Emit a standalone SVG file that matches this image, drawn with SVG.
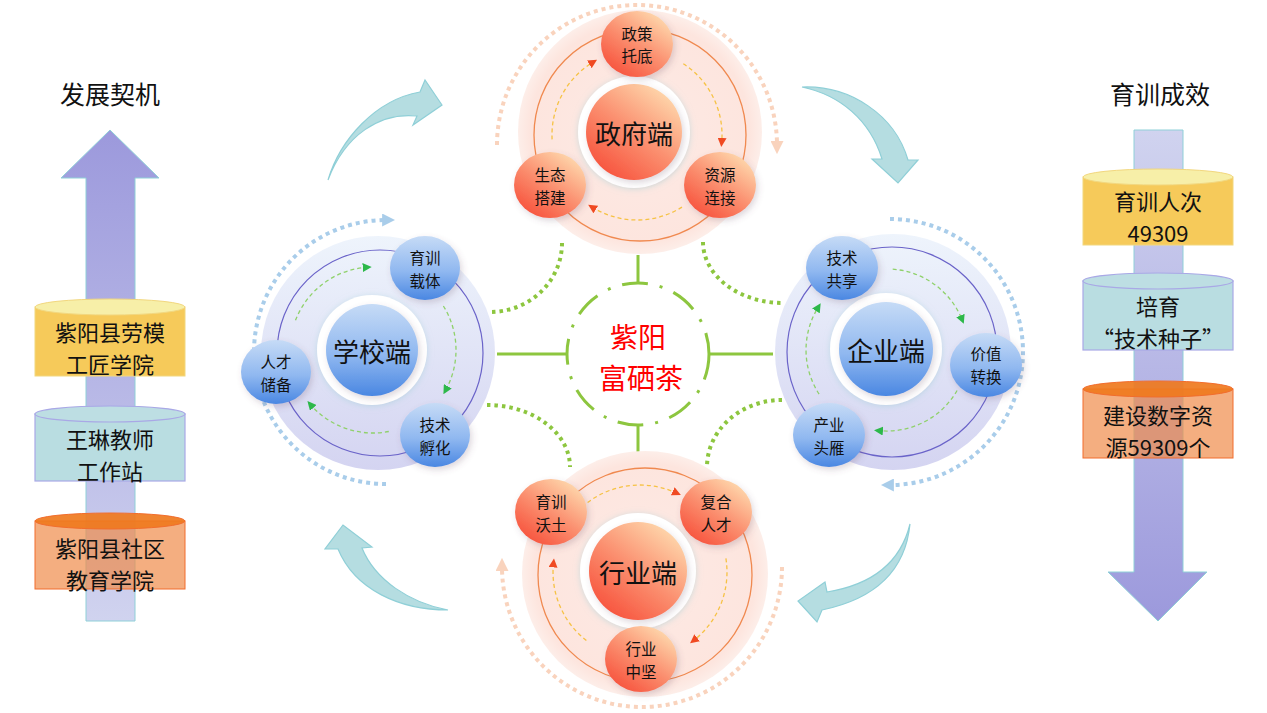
<svg xmlns="http://www.w3.org/2000/svg" width="1267" height="713" viewBox="0 0 1267 713">
<style>
text{font-family:"Noto Sans CJK SC","Liberation Sans",sans-serif;fill:#111;text-anchor:middle;dominant-baseline:central}
.t{font-size:25px}
.bx{font-size:22px}
.sn{font-size:15.5px}
.cn{font-size:26px}
.ctr{font-size:28px;fill:#ff0000}
.shaft{stroke:#8fd0d8;stroke-width:1}
.cyY{fill:#f6ca5a;stroke:#f2d77f;stroke-width:1}
.cyYt{fill:#f7efa8;stroke:#f2d77f;stroke-width:1}
.cyT{fill:#b9dde1;stroke:#a9a8e6;stroke-width:1.2}
.cyTt{fill:#bddee3;stroke:#a9a8e6;stroke-width:1.2}
.cyO{fill:#f08c4a;fill-opacity:0.7;stroke:#f26d2d;stroke-width:1}
.cyOt{fill:#ef7a1e;fill-opacity:0.92;stroke:#f26d2d;stroke-width:1}
.bend{fill:#b5dde1;stroke:#8fcfd7;stroke-width:1.2}
.gl{stroke:#8dc63f;stroke-width:3;fill:none}
.gd{stroke:#8dc63f;stroke-width:4;fill:none;stroke-dasharray:3.5 4}
.dR{stroke:#f9d3bd;stroke-width:4;fill:none;stroke-dasharray:4 4}
.dB{stroke:#a9cdea;stroke-width:4;fill:none;stroke-dasharray:4 4}
.iR{stroke:#f6c244;stroke-width:1.3;fill:none;stroke-dasharray:4 3}
.iB{stroke:#8fd16a;stroke-width:1.3;fill:none;stroke-dasharray:4 3}
.ringR{fill:none;stroke:#f0894f;stroke-width:1.3}
.ringB{fill:none;stroke:#6a63c9;stroke-width:1.2}
.nR{fill:url(#gR);filter:url(#sh)}
.nB{fill:url(#gB);filter:url(#sh)}
.halo{fill:#fff;filter:url(#glow)}
</style>
<defs>
<linearGradient id="gR" x1="0.85" y1="0.1" x2="0.2" y2="0.95">
<stop offset="0" stop-color="#fed6ab"/><stop offset="0.5" stop-color="#fb9070"/><stop offset="1" stop-color="#f7533d"/>
</linearGradient>
<linearGradient id="gB" x1="0" y1="0" x2="0" y2="1">
<stop offset="0" stop-color="#c6dbf6"/><stop offset="0.55" stop-color="#90b8f0"/><stop offset="1" stop-color="#4a87e2"/>
</linearGradient>
<linearGradient id="gDiskB" x1="0" y1="0" x2="0" y2="1">
<stop offset="0" stop-color="#eef4fc"/><stop offset="1" stop-color="#d4d4f1"/>
</linearGradient>
<radialGradient id="gDiskR" cx="0.5" cy="0.5" r="0.5">
<stop offset="0" stop-color="#fdeae5"/><stop offset="0.9" stop-color="#fde5de"/><stop offset="1" stop-color="#fdeee9"/>
</radialGradient>
<linearGradient id="gUp" x1="0" y1="0" x2="0" y2="1">
<stop offset="0" stop-color="#9c99dc"/><stop offset="1" stop-color="#d0d3ef"/>
</linearGradient>
<linearGradient id="gDown" x1="0" y1="0" x2="0" y2="1">
<stop offset="0" stop-color="#d0d3ef"/><stop offset="1" stop-color="#9c99dc"/>
</linearGradient>
<filter id="sh" x="-30%" y="-30%" width="160%" height="160%">
<feDropShadow dx="2" dy="3" stdDeviation="3" flood-color="#6a4a60" flood-opacity="0.22"/>
</filter>
<filter id="glow" x="-30%" y="-30%" width="160%" height="160%">
<feDropShadow dx="0" dy="1" stdDeviation="3" flood-color="#9ecfd6" flood-opacity="0.5"/>
</filter>
<marker id="mR" viewBox="0 0 10 10" refX="5" refY="5" markerWidth="9" markerHeight="9" markerUnits="userSpaceOnUse" orient="auto">
<path d="M0,0 L10,5 L0,10 z" fill="#f04a22"/>
</marker>
<marker id="mG" viewBox="0 0 10 10" refX="5" refY="5" markerWidth="9" markerHeight="9" markerUnits="userSpaceOnUse" orient="auto">
<path d="M0,0 L10,5 L0,10 z" fill="#2db84a"/>
</marker>
<marker id="mDR" viewBox="0 0 10 10" refX="3" refY="5" markerWidth="13" markerHeight="13" markerUnits="userSpaceOnUse" orient="auto">
<path d="M0,0 L10,5 L0,10 z" fill="#f9d3bd"/>
</marker>
<marker id="mDB" viewBox="0 0 10 10" refX="3" refY="5" markerWidth="13" markerHeight="13" markerUnits="userSpaceOnUse" orient="auto">
<path d="M0,0 L10,5 L0,10 z" fill="#a9cdea"/>
</marker>
</defs>

<rect width="1267" height="713" fill="#fff"/>

<!-- Left column -->
<g id="left-column">
<text class="t" x="110" y="93">发展契机</text>
<path class="shaft" d="M86,621 L86,178 L61,178 L110,130 L159,178 L135,178 L135,621 Z" fill="url(#gUp)"/>
<g id="box-laomo">
<rect class="cyY" x="35" y="307" width="150" height="69"/>
<ellipse class="cyYt" cx="110" cy="307" rx="75" ry="8"/>
<text class="bx"><tspan x="110" y="330.5">紫阳县劳模</tspan><tspan x="110" dy="32">工匠学院</tspan></text>
</g>
<g id="box-wanglin">
<rect class="cyT" x="35" y="414" width="150" height="67"/>
<ellipse class="cyTt" cx="110" cy="414" rx="75" ry="8"/>
<text class="bx"><tspan x="110" y="437.5">王琳教师</tspan><tspan x="110" dy="32">工作站</tspan></text>
</g>
<g id="box-shequ">
<rect class="cyO" x="35" y="521" width="150" height="68"/>
<ellipse class="cyOt" cx="110" cy="521" rx="75" ry="8"/>
<text class="bx"><tspan x="110" y="546.5">紫阳县社区</tspan><tspan x="110" dy="32">教育学院</tspan></text>
</g>
</g>

<!-- Right column -->
<g id="right-column">
<text class="t" x="1160" y="93">育训成效</text>
<path class="shaft" d="M1134,130 L1183,130 L1183,572 L1207,572 L1158,621 L1108,572 L1134,572 Z" fill="url(#gDown)"/>
<g id="box-renci">
<rect class="cyY" x="1083" y="177" width="150" height="68"/>
<ellipse class="cyYt" cx="1158" cy="177" rx="75" ry="8"/>
<text class="bx"><tspan x="1158" y="199.5">育训人次</tspan><tspan x="1158" dy="32">49309</tspan></text>
</g>
<g id="box-zhongzi">
<rect class="cyT" x="1083" y="281" width="150" height="69"/>
<ellipse class="cyTt" cx="1158" cy="281" rx="75" ry="8"/>
<text class="bx"><tspan x="1158" y="305">培育</tspan><tspan x="1158" dy="32">“技术种子”</tspan></text>
</g>
<g id="box-ziyuan">
<rect class="cyO" x="1083" y="389" width="150" height="69"/>
<ellipse class="cyOt" cx="1158" cy="389" rx="75" ry="8"/>
<text class="bx"><tspan x="1158" y="414">建设数字资</tspan><tspan x="1158" dy="32">源59309个</tspan></text>
</g>
</g>

<!-- Connectors -->
<g id="connectors">
<path class="bend" d="M328,180 C340,140 375,100 420,92 L425,80 L442,105 L413,125 L417,116 C380,112 345,135 328,180 Z"/>
<path class="bend" d="M802,87 C850,85 895,115 908,160 L918,160 L898,183 L872,159 L882,159 C870,120 840,95 802,87 Z"/>
<path class="bend" d="M910,524 C905,575 870,600 822,610 L817,622 L798,601 L825,582 L827,592 C870,585 900,565 910,524 Z"/>
<path class="bend" d="M448,610 C400,610 355,590 338,549 L325,549 L343,525 L372,547 L362,548 C375,580 410,603 448,610 Z"/>

<path class="gd" d="M562,243 A72,69 0 0 1 490,312"/>
<path class="gd" d="M703,242 A80,61 0 0 0 783,303"/>
<path class="gd" d="M487,405 A83,62 0 0 1 570,467"/>
<path class="gd" d="M782,400 A75,67 0 0 0 707,467"/>

<line class="gl" x1="638" y1="255" x2="638" y2="284"/>
<line class="gl" x1="638" y1="425" x2="638" y2="456"/>
<line class="gl" x1="497" y1="354" x2="567" y2="354"/>
<line class="gl" x1="710" y1="354" x2="773" y2="354"/>
</g>

<!-- Center -->
<g id="center">
<circle cx="638" cy="354" r="71" fill="none" stroke="#8dc63f" stroke-width="3" stroke-dasharray="26 12 3 12"/>
<text class="ctr"><tspan x="638" y="335.5">紫阳</tspan><tspan x="641" dy="41">富硒茶</tspan></text>
</g>

<!-- Government cluster -->
<g id="cluster-government">
<circle cx="640" cy="132" r="122" fill="url(#gDiskR)"/>
<circle class="ringR" cx="640" cy="135" r="106"/>
<path class="dR" d="M497,145 A140,140 0 0 1 777,145" marker-end="url(#mDR)"/>
<path class="iR" d="M683.3,63.7 A85,85 0 0 1 721.7,142.4" marker-end="url(#mR)"/>
<path class="iR" d="M682,207.1 A85,85 0 0 1 592,207.1" marker-end="url(#mR)"/>
<path class="iR" d="M552.1,139.4 A85,85 0 0 1 593.2,62.1" marker-end="url(#mR)"/>
<g id="node-zhengfu">
<circle class="halo" cx="634" cy="132" r="56"/>
<circle class="nR" cx="634" cy="132" r="48"/>
<text class="cn" x="634" y="132">政府端</text>
</g>
<g id="node-zhengce">
<ellipse class="nR" cx="637" cy="44" rx="36" ry="33"/>
<text class="sn"><tspan x="637" y="32.75">政策</tspan><tspan x="637" dy="22.5">托底</tspan></text>
</g>
<g id="node-ziyuan">
<ellipse class="nR" cx="720" cy="185" rx="36" ry="33"/>
<text class="sn"><tspan x="720" y="174.25">资源</tspan><tspan x="720" dy="22.5">连接</tspan></text>
</g>
<g id="node-shengtai">
<ellipse class="nR" cx="550" cy="185" rx="36" ry="33"/>
<text class="sn"><tspan x="550" y="174.25">生态</tspan><tspan x="550" dy="22.5">搭建</tspan></text>
</g>
</g>

<!-- Industry cluster -->
<g id="cluster-industry">
<circle cx="645" cy="574" r="123" fill="url(#gDiskR)"/>
<circle class="ringR" cx="645" cy="575" r="107"/>
<path class="dR" d="M782,567 A140,140 0 0 1 502,567" marker-end="url(#mDR)"/>
<path class="iR" d="M587.6,502.5 A87,87 0 0 1 676.8,493.2" marker-end="url(#mR)"/>
<path class="iR" d="M725.9,558.4 A87,87 0 0 1 693.6,640.6" marker-end="url(#mR)"/>
<path class="iR" d="M586.4,640.6 A87,87 0 0 1 553.5,562.9" marker-end="url(#mR)"/>
<g id="node-hangye">
<circle class="halo" cx="638" cy="571" r="58"/>
<circle class="nR" cx="638" cy="571" r="49"/>
<text class="cn" x="638" y="571">行业端</text>
</g>
<g id="node-woutu">
<ellipse class="nR" cx="551" cy="512" rx="36" ry="33"/>
<text class="sn"><tspan x="551" y="501.25">育训</tspan><tspan x="551" dy="22.5">沃土</tspan></text>
</g>
<g id="node-fuhe">
<ellipse class="nR" cx="716" cy="512" rx="36" ry="33"/>
<text class="sn"><tspan x="716" y="501.25">复合</tspan><tspan x="716" dy="22.5">人才</tspan></text>
</g>
<g id="node-zhongjian">
<ellipse class="nR" cx="641" cy="659" rx="36" ry="33"/>
<text class="sn"><tspan x="641" y="648.25">行业</tspan><tspan x="641" dy="22.5">中坚</tspan></text>
</g>
</g>

<!-- School cluster -->
<g id="cluster-school">
<circle cx="378" cy="353" r="117" fill="url(#gDiskB)"/>
<circle class="ringB" cx="380" cy="353" r="103"/>
<path class="dB" d="M386,484 A132,132 0 0 1 386,220" marker-end="url(#mDB)"/>
<path class="iB" d="M295.5,320.3 A83,83 0 0 1 367.2,267.2" marker-end="url(#mG)"/>
<path class="iB" d="M443.4,306 A83,83 0 0 1 445.6,390.2" marker-end="url(#mG)"/>
<path class="iB" d="M388.8,431.5 A83,83 0 0 1 310.4,404.5" marker-end="url(#mG)"/>
<g id="node-xuexiao">
<circle class="halo" cx="372" cy="350" r="55"/>
<circle class="nB" cx="372" cy="350" r="46"/>
<text class="cn" x="372" y="350">学校端</text>
</g>
<g id="node-zaiti">
<ellipse class="nB" cx="425" cy="268" rx="35" ry="32"/>
<text class="sn"><tspan x="425" y="257.25">育训</tspan><tspan x="425" dy="22.5">载体</tspan></text>
</g>
<g id="node-fuhua">
<ellipse class="nB" cx="435" cy="435" rx="35" ry="32"/>
<text class="sn"><tspan x="435" y="424.25">技术</tspan><tspan x="435" dy="22.5">孵化</tspan></text>
</g>
<g id="node-chubei">
<ellipse class="nB" cx="276" cy="372" rx="35" ry="32"/>
<text class="sn"><tspan x="276" y="361.25">人才</tspan><tspan x="276" dy="22.5">储备</tspan></text>
</g>
</g>

<!-- Enterprise cluster -->
<g id="cluster-enterprise">
<circle cx="893" cy="352" r="118" fill="url(#gDiskB)"/>
<circle class="ringB" cx="892" cy="352" r="105"/>
<path class="dB" d="M890,219 A133,133 0 0 1 890,485" marker-end="url(#mDB)"/>
<path class="iB" d="M892.7,269.2 A81,81 0 0 1 962.1,319.7" marker-end="url(#mG)"/>
<path class="iB" d="M957.1,390.5 A81,81 0 0 1 878.5,430.6" marker-end="url(#mG)"/>
<path class="iB" d="M819.1,394.1 A81,81 0 0 1 818.3,307.1" marker-end="url(#mG)"/>
<g id="node-qiye">
<circle class="halo" cx="886" cy="349" r="56"/>
<circle class="nB" cx="886" cy="349" r="47"/>
<text class="cn" x="886" y="349">企业端</text>
</g>
<g id="node-gongxiang">
<ellipse class="nB" cx="842" cy="268" rx="36" ry="32"/>
<text class="sn"><tspan x="842" y="257.25">技术</tspan><tspan x="842" dy="22.5">共享</tspan></text>
</g>
<g id="node-zhuanhuan">
<ellipse class="nB" cx="986" cy="365" rx="36" ry="32"/>
<text class="sn"><tspan x="986" y="353.25">价值</tspan><tspan x="986" dy="22.5">转换</tspan></text>
</g>
<g id="node-touyan">
<ellipse class="nB" cx="829" cy="435" rx="36" ry="32"/>
<text class="sn"><tspan x="829" y="424.25">产业</tspan><tspan x="829" dy="22.5">头雁</tspan></text>
</g>
</g>
</svg>
